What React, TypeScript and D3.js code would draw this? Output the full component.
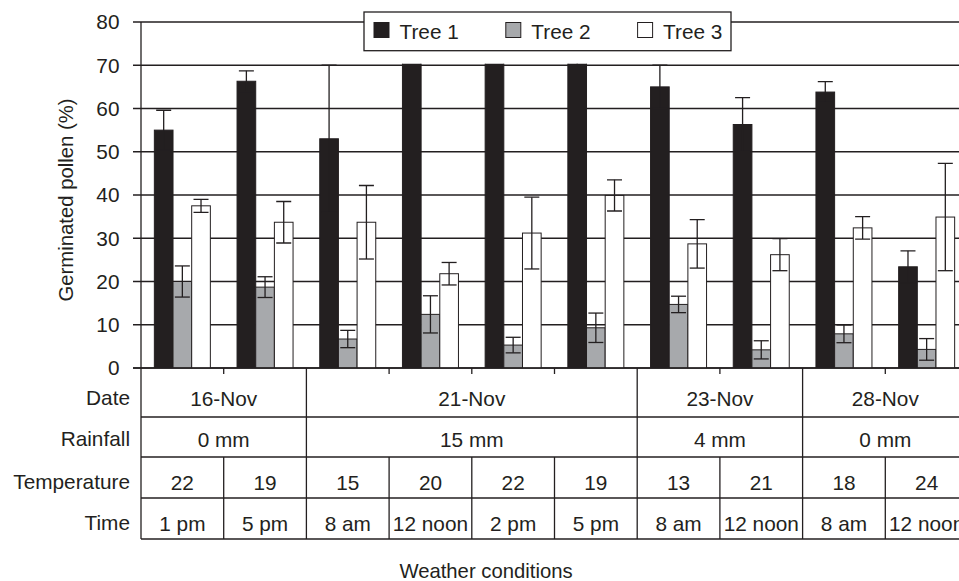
import React from "react";
import * as d3 from "d3";

// per-time-slot labels (table rows under the chart)
const times = ["1 pm", "5 pm", "8 am", "12 noon", "2 pm", "5 pm", "8 am", "12 noon", "8 am", "12 noon"];
const temperatures = [22, 19, 15, 20, 22, 19, 13, 21, 18, 24];
const dates = ["16-Nov", "21-Nov", "23-Nov", "28-Nov"];
const dateSpans = [2, 4, 2, 2];
const rainfall = ["0 mm", "15 mm", "4 mm", "0 mm"];
const rowLabels = ["Date", "Rainfall", "Temperature", "Time"];

const seriesNames = ["Tree 1", "Tree 2", "Tree 3"];
const tree1 = [55, 66.3, 53, 74, 76, 73, 65, 56.3, 63.8, 23.4];
const tree1Err = [4.6, 2.4, 17, 3, 3, 3, 5, 6.2, 2.4, 3.7];
const tree2 = [20, 18.7, 6.7, 12.4, 5.3, 9.3, 14.7, 4.2, 7.9, 4.3];
const tree2Err = [3.6, 2.4, 2, 4.3, 1.8, 3.4, 1.9, 2.1, 2.05, 2.5];
const tree3 = [37.5, 33.7, 33.7, 21.8, 31.2, 39.9, 28.7, 26.2, 32.4, 34.9];
const tree3Err = [1.5, 4.8, 8.5, 2.6, 8.3, 3.6, 5.6, 3.7, 2.6, 12.4];
const yTicks = [0, 10, 20, 30, 40, 50, 60, 70, 80];

const INK = "#231f20";
const colors = ["#231f20", "#a7a9ac", "#ffffff"];
const FONT = "'Liberation Sans', Arial, sans-serif";
const FS = 20.8;

export default function App() {
  const W = 959, H = 581;
  const left = 141, top = 22, bottom = 368;
  const step = 82.7;
  const right = left + step * times.length;

  const x = d3.scaleBand<number>().domain(d3.range(times.length)).range([left, right]);
  const xs = d3.scaleBand<number>().domain([0, 1, 2]).range([0, x.bandwidth()]).paddingOuter(0.715);
  const y = d3.scaleLinear().domain([0, 80]).range([bottom, top]);

  const values = [tree1, tree2, tree3];
  const errs = [tree1Err, tree2Err, tree3Err];

  // table row boundaries and text baselines
  const rowLines = [bottom, 417, 457, 498, 539];
  const baselines = [406, 447, 490, 531];

  // group boundaries (date / rainfall spans)
  const groupStarts: number[] = [];
  let acc = 0;
  dateSpans.forEach((s) => { groupStarts.push(acc); acc += s; });
  const groupBounds = groupStarts.slice(1);

  const cap = 7.5;

  return (
    <svg width={W} height={H} style={{ position: "absolute", left: 0, top: 0, background: "#fff" }}
      fontFamily={FONT} fill={INK}>
      <defs>
        <clipPath id="plotClip">
          <rect x={left} y={y(70) - 1.5} width={right - left + 10} height={bottom - y(70) + 1.5} />
        </clipPath>
      </defs>

      {/* gridlines */}
      {yTicks.map((t) => (
        <line key={t} x1={133} x2={right + 5} y1={y(t)} y2={y(t)} stroke={INK} strokeWidth={1.3} />
      ))}
      {yTicks.map((t) => (
        <text key={"l" + t} x={119.5} y={y(t)} dy="0.36em" textAnchor="end" fontSize={FS}>{t}</text>
      ))}

      {/* bars + error bars */}
      <g clipPath="url(#plotClip)">
        {values.map((vals, s) =>
          vals.map((v, i) => {
            const bx = (x(i) as number) + (xs(s) as number);
            return (
              <rect key={s + "-" + i} x={bx} y={y(v)} width={xs.bandwidth()} height={bottom - y(v)}
                fill={colors[s]} stroke={INK} strokeWidth={1} />
            );
          })
        )}
        {values.map((vals, s) =>
          vals.map((v, i) => {
            const cx = (x(i) as number) + (xs(s) as number) + xs.bandwidth() / 2;
            const hi = y(v + errs[s][i]);
            const lo = y(v - errs[s][i]);
            return (
              <g key={"e" + s + "-" + i} stroke={INK} strokeWidth={1.3}>
                <line x1={cx} x2={cx} y1={hi} y2={lo} />
                <line x1={cx - cap} x2={cx + cap} y1={hi} y2={hi} />
                <line x1={cx - cap} x2={cx + cap} y1={lo} y2={lo} />
              </g>
            );
          })
        )}
      </g>

      {/* y axis line + table left border */}
      <line x1={left} x2={left} y1={top} y2={rowLines[4]} stroke={INK} strokeWidth={1.3} />
      <line x1={133} x2={right + 5} y1={bottom} y2={bottom} stroke={INK} strokeWidth={1.3} />

      {/* table */}
      {rowLines.slice(1).map((ry) => (
        <line key={"r" + ry} x1={left} x2={right + 5} y1={ry} y2={ry} stroke={INK} strokeWidth={1.3} />
      ))}
      {d3.range(1, times.length).map((i) =>
        groupBounds.includes(i) ? (
          <line key={"v" + i} x1={x(i)} x2={x(i)} y1={bottom} y2={rowLines[4]} stroke={INK} strokeWidth={1.3} />
        ) : (
          <g key={"v" + i} stroke={INK} strokeWidth={1.3}>
            <line x1={x(i)} x2={x(i)} y1={bottom} y2={bottom + 6} />
            <line x1={x(i)} x2={x(i)} y1={rowLines[2]} y2={rowLines[4]} />
          </g>
        )
      )}
      <line x1={right} x2={right} y1={top} y2={rowLines[4]} stroke={INK} strokeWidth={1.3} />

      {rowLabels.map((l, r) => (
        <text key={l} x={130} y={baselines[r] - 1} textAnchor="end" fontSize={FS}>{l}</text>
      ))}
      {dates.map((d, g) => {
        const x0 = x(groupStarts[g]) as number;
        const x1 = x0 + dateSpans[g] * step;
        return (
          <g key={"d" + g}>
            <text x={(x0 + x1) / 2} y={baselines[0]} textAnchor="middle" fontSize={FS}>{d}</text>
            <text x={(x0 + x1) / 2} y={baselines[1]} textAnchor="middle" fontSize={FS}>{rainfall[g]}</text>
          </g>
        );
      })}
      {times.map((t, i) => (
        <g key={"t" + i}>
          <text x={(x(i) as number) + step / 2} y={baselines[2]} textAnchor="middle" fontSize={FS}>{temperatures[i]}</text>
          <text x={(x(i) as number) + step / 2} y={baselines[3]} textAnchor="middle" fontSize={FS}>{t}</text>
        </g>
      ))}

      {/* axis titles */}
      <text transform={`translate(73,200) rotate(-90)`} textAnchor="middle" fontSize={20.3}>
        Germinated pollen (%)
      </text>
      <text x={486} y={578} textAnchor="middle" fontSize={20.3}>Weather conditions</text>

      {/* legend */}
      <g>
        <rect x={364} y={12} width={367} height={38.7} fill="#fff" stroke={INK} strokeWidth={1.3} />
        {seriesNames.map((n, s) => {
          const lx = 374 + s * 131.8;
          return (
            <g key={n}>
              <rect x={lx} y={22.5} width={15} height={15} fill={colors[s]} stroke={INK} strokeWidth={1} />
              <text x={lx + 25.5} y={38.5} fontSize={FS}>{n}</text>
            </g>
          );
        })}
      </g>
    </svg>
  );
}
